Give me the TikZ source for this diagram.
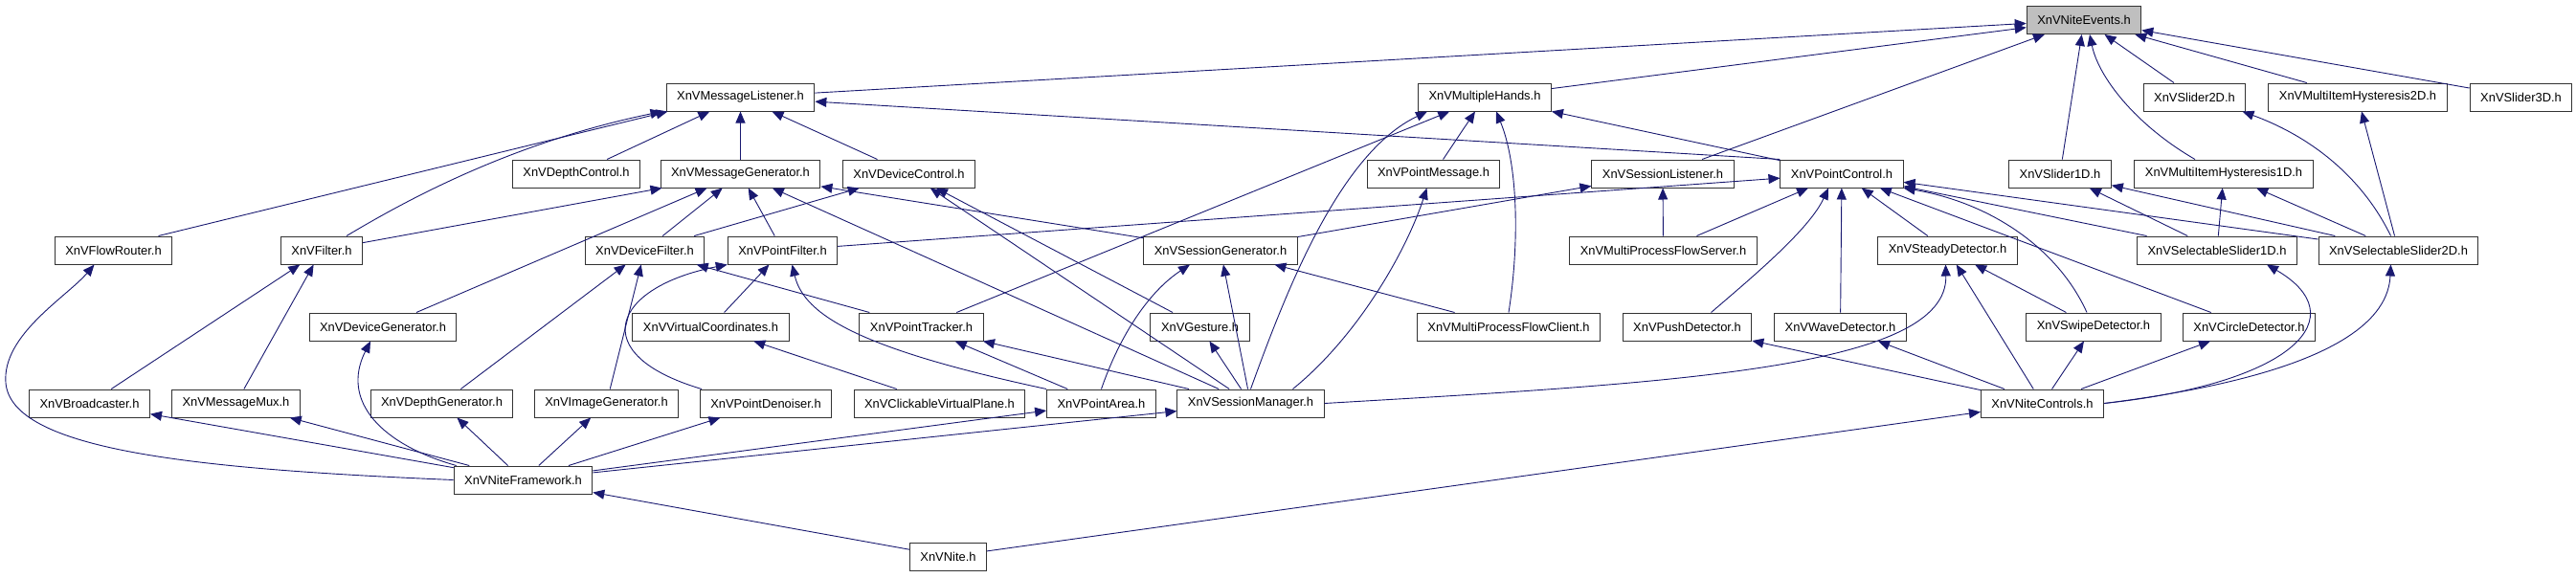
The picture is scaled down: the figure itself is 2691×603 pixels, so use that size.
\documentclass[tikz,border=0pt]{standalone}
\usepackage{fontspec}
\setmainfont{Liberation Sans}
\usetikzlibrary{arrows.meta}
\definecolor{edgeblue}{RGB}{25,25,112}
\definecolor{hdrgray}{RGB}{191,191,191}

\begin{document}
\begin{tikzpicture}[x=1pt,y=-1pt,
    hdr/.style={draw=black!80, line width=1pt, fill=white, minimum height=29pt,
      inner xsep=11pt, inner ysep=0pt, font=\fontsize{12.9}{15}\selectfont},
    inc/.style={draw=edgeblue, line width=0.9pt, -{Triangle[length=12pt,width=10pt]}}]
    \useasboundingbox (0,0) rectangle (2691,603);

    \node[hdr, fill=hdrgray] (ne) at (2177,21) {XnVNiteEvents.h};

    \node[hdr] (mlis) at (773.5,101.5) {XnVMessageListener.h};
    \node[hdr] (mhands) at (1551,101.5) {XnVMultipleHands.h};
    \node[hdr] (sl2) at (2292.5,101.5) {XnVSlider2D.h};
    \node[hdr] (mih2) at (2463,101.5) {XnVMultiItemHysteresis2D.h};
    \node[hdr] (sl3) at (2633.5,101.5) {XnVSlider3D.h};

    \node[hdr] (dctl) at (602,181.5) {XnVDepthControl.h};
    \node[hdr] (mgen) at (773.5,181.5) {XnVMessageGenerator.h};
    \node[hdr] (devctl) at (949.5,181.5) {XnVDeviceControl.h};
    \node[hdr] (pmsg) at (1497.5,181.5) {XnVPointMessage.h};
    \node[hdr] (slis) at (1737,181.5) {XnVSessionListener.h};
    \node[hdr] (pctl) at (1924,181.5) {XnVPointControl.h};
    \node[hdr] (sl1) at (2152,181.5) {XnVSlider1D.h};
    \node[hdr] (mih1) at (2323,181.5) {XnVMultiItemHysteresis1D.h};

    \node[hdr] (frouter) at (118.5,261.5) {XnVFlowRouter.h};
    \node[hdr] (filter) at (336,261.5) {XnVFilter.h};
    \node[hdr] (devfil) at (673.5,261.5) {XnVDeviceFilter.h};
    \node[hdr] (pfil) at (817.5,261.5) {XnVPointFilter.h};
    \node[hdr] (sgen) at (1275,261.5) {XnVSessionGenerator.h};
    \node[hdr] (mpfs) at (1737.5,261.5) {XnVMultiProcessFlowServer.h};
    \node[hdr] (steady) at (2034.5,261.5) {XnVSteadyDetector.h};
    \node[hdr] (ss1) at (2316,261.5) {XnVSelectableSlider1D.h};
    \node[hdr] (ss2) at (2505.5,261.5) {XnVSelectableSlider2D.h};

    \node[hdr] (devgen) at (400,341.5) {XnVDeviceGenerator.h};
    \node[hdr] (vcoord) at (742.5,341.5) {XnVVirtualCoordinates.h};
    \node[hdr] (ptrack) at (962.5,341.5) {XnVPointTracker.h};
    \node[hdr] (gest) at (1253.5,341.5) {XnVGesture.h};
    \node[hdr] (mpfc) at (1576,341.5) {XnVMultiProcessFlowClient.h};
    \node[hdr] (push) at (1762.5,341.5) {XnVPushDetector.h};
    \node[hdr] (wave) at (1922.5,341.5) {XnVWaveDetector.h};
    \node[hdr] (swipe) at (2187,341.5) {XnVSwipeDetector.h};
    \node[hdr] (circle) at (2349.5,341.5) {XnVCircleDetector.h};

    \node[hdr] (bcast) at (93.5,421.5) {XnVBroadcaster.h};
    \node[hdr] (mmux) at (246.5,421.5) {XnVMessageMux.h};
    \node[hdr] (depgen) at (461.5,421.5) {XnVDepthGenerator.h};
    \node[hdr] (imggen) at (633.5,421.5) {XnVImageGenerator.h};
    \node[hdr] (pden) at (800,421.5) {XnVPointDenoiser.h};
    \node[hdr] (cvp) at (981.5,421.5) {XnVClickableVirtualPlane.h};
    \node[hdr] (parea) at (1150.5,421.5) {XnVPointArea.h};
    \node[hdr] (smgr) at (1306.5,421.5) {XnVSessionManager.h};
    \node[hdr] (nctl) at (2133.5,421.5) {XnVNiteControls.h};

    \node[hdr] (nfw) at (546.5,501.5) {XnVNiteFramework.h};
    \node[hdr] (nite) at (990.5,581.5) {XnVNite.h};

    \draw[inc] (mlis) -- (ne);
    \draw[inc] (mhands) -- (ne);
    \draw[inc] (slis) -- (ne);
    \draw[inc] (sl1) -- (ne);
    \draw[inc] ([xshift=-30pt]mih1.north) .. controls (2230,130) and (2192,80) .. ([xshift=6pt]ne.south);
    \draw[inc] (sl2) -- (ne);
    \draw[inc] (mih2) -- (ne);
    \draw[inc] (sl3) -- (ne);

    \draw[inc] (dctl) -- (mlis);
    \draw[inc] (mgen) -- (mlis);
    \draw[inc] (devctl) -- (mlis);
    \draw[inc] ([xshift=47pt]frouter.north) -- ([xshift=-76pt]mlis.south);
    \draw[inc] ([xshift=26pt]filter.north) .. controls (420,212) and (530,150) .. ([xshift=-82pt]mlis.south);
    \draw[inc] (pctl.north west) -- (mlis);

    \draw[inc] (pctl) -- (mhands);
    \draw[inc] (pmsg) -- (mhands);
    \draw[inc] (ptrack) -- (mhands);
    \draw[inc] (smgr.north) .. controls (1345,300) and (1400,160) .. ([xshift=-60pt]mhands.south);
    \draw[inc] (mpfc.north) .. controls (1588,250) and (1585,170) .. ([xshift=12pt]mhands.south);

    \draw[inc] (filter) -- (mgen);
    \draw[inc] (devgen) -- (mgen);
    \draw[inc] (devfil) -- (mgen);
    \draw[inc] (pfil) -- (mgen);
    \draw[inc] (smgr) -- (mgen);
    \draw[inc] (sgen) -- (mgen);

    \draw[inc] (devfil) -- (devctl);
    \draw[inc] (smgr) -- (devctl);
    \draw[inc] (gest) -- (devctl);
    \draw[inc] ([xshift=44pt]smgr.north) .. controls (1420,350) and (1470,260) .. ([xshift=-7pt]pmsg.south);

    \draw[inc] (sgen) -- (slis);
    \draw[inc] (mpfs) -- (slis);

    \draw[inc] (mpfs) -- (pctl);
    \draw[inc] (pfil) -- (pctl);
    \draw[inc] ([xshift=25pt]push.north) .. controls (1830,290) and (1890,240) .. ([xshift=-14pt]pctl.south);
    \draw[inc] (wave) -- (pctl);
    \draw[inc] (steady) -- (pctl);
    \draw[inc] ([xshift=-7pt]swipe.north) .. controls (2150,260) and (2080,212) .. (pctl.south east);
    \draw[inc] (circle) -- (pctl);
    \draw[inc] (ss1) -- (pctl);
    \draw[inc] (ss2) -- (pctl);

    \draw[inc] (ss1) -- (sl1);
    \draw[inc] (ss2) -- (sl1);
    \draw[inc] (ss1) -- (mih1);
    \draw[inc] (ss2) -- (mih1);
    \draw[inc] ([xshift=-8pt]ss2.north) .. controls (2470,190) and (2420,145) .. ([xshift=50pt]sl2.south);
    \draw[inc] (ss2) -- (mih2);

    \draw[inc] (bcast) -- (filter);
    \draw[inc] (mmux) -- (filter);
    \draw[inc] (depgen) -- (devfil);
    \draw[inc] (imggen) -- (devfil);
    \draw[inc] (ptrack) -- (devfil);
    \draw[inc] (vcoord) -- (pfil);
    \draw[inc] ([xshift=-67pt]pden.north) .. controls (610,370) and (640,300) .. (pfil.south west);
    \draw[inc] (parea.north west) .. controls (900,365) and (840,330) .. ([xshift=10pt]pfil.south);

    \draw[inc] (parea.north) .. controls (1170,350) and (1200,305) .. ([xshift=-32pt]sgen.south);
    \draw[inc] (smgr) -- (sgen);
    \draw[inc] (mpfc) -- (sgen);

    \draw[inc] (smgr.east) .. controls (1750,400) and (2035,385) .. ([xshift=-2pt]steady.south);
    \draw[inc] (nctl) -- (steady);
    \draw[inc] (swipe) -- (steady);

    \draw[inc] (cvp) -- (vcoord);
    \draw[inc] (parea) -- (ptrack);
    \draw[inc] (smgr) -- (ptrack);
    \draw[inc] (smgr) -- (gest);

    \draw[inc] (nctl) -- (push);
    \draw[inc] (nctl) -- (wave);
    \draw[inc] (nctl) -- (swipe);
    \draw[inc] (nctl) -- (circle);
    \draw[inc] (nctl.east) .. controls (2400,400) and (2460,330) .. ([xshift=52pt]ss1.south);
    \draw[inc] (nctl.east) .. controls (2450,390) and (2495,330) .. ([xshift=-8pt]ss2.south);

    \draw[inc] (nfw.west) .. controls (200,490) and (12,470) .. (6,400) .. controls (2,350) and (70,310) .. ([xshift=-20pt]frouter.south);
    \draw[inc] (nfw) -- (bcast);
    \draw[inc] (nfw) -- (mmux);
    \draw[inc] ([xshift=3pt]nfw.north west) .. controls (400,465) and (355,420) .. ([xshift=-13pt]devgen.south);
    \draw[inc] (nfw) -- (depgen);
    \draw[inc] (nfw) -- (imggen);
    \draw[inc] (nfw) -- (pden);
    \draw[inc] (nfw) -- (parea);
    \draw[inc] (nfw) -- (smgr);

    \draw[inc] (nite) -- (nfw);
    \draw[inc] (nite) -- (nctl);
\end{tikzpicture}
\end{document}
